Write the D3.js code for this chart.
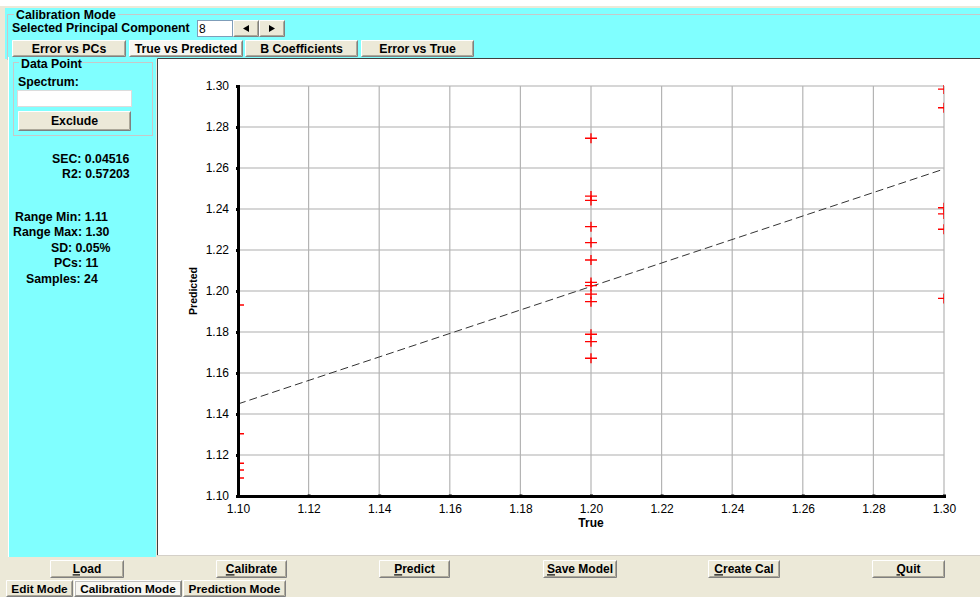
<!DOCTYPE html>
<html><head><meta charset="utf-8">
<script src="https://cdn.jsdelivr.net/npm/d3@7"></script>
<style>
body{margin:0;background:#ece9d8;}
svg{display:block;font-family:Arial,"Liberation Sans",sans-serif;}
</style>
</head><body><svg id="c" width="980" height="597"></svg>
<script>
// ---- data ----
const trueValues = [
  1.10,1.10,1.10,1.10,1.10,
  1.20,1.20,1.20,1.20,1.20,1.20,1.20,1.20,1.20,1.20,1.20,1.20,1.20,
  1.30,1.30,1.30,1.30,1.30,1.30
];
const predictedValues = [
  1.1932,1.1304,1.1160,1.1127,1.1088,
  1.2745,1.2463,1.2442,1.2314,1.2236,1.2151,1.2042,1.2026,1.1985,1.1948,1.1789,1.1753,1.1672,
  1.2985,1.2894,1.2406,1.2376,1.2301,1.1964
];
const fitX = [1.10, 1.30];
const fitY = [1.1449, 1.2595];
const xTickValues = [1.10,1.12,1.14,1.16,1.18,1.20,1.22,1.24,1.26,1.28,1.30];
const yTickValues = [1.10,1.12,1.14,1.16,1.18,1.20,1.22,1.24,1.26,1.28,1.30];
const xTitle = "True";
const yTitle = "Predicted";
const statLabels = ["SEC:","R2:","Range Min:","Range Max:","SD:","PCs:","Samples:"];
const statValues = ["0.04516","0.57203","1.11","1.30","0.05%","11","24"];
const viewTabs = ["Error vs PCs","True vs Predicted","B Coefficients","Error vs True"];
const actionButtons = ["Load","Calibrate","Predict","Save Model","Create Cal","Quit"];
const modeTabs = ["Edit Mode","Calibration Mode","Prediction Mode"];

// ---- drawing ----
const svg = d3.select("#c");
const CYAN = "#80ffff", BEIGE = "#ece9d8";
const UI = 12.3;

function button(g, x, y, w, h, label, opts={}) {
  const b = g.append("g");
  b.append("rect").attr("x",x).attr("y",y).attr("width",w).attr("height",h).attr("fill",opts.fill||BEIGE);
  b.append("path").attr("d",`M${x+0.5},${y+h-0.5}V${y+0.5}H${x+w-0.5}`).attr("stroke","#fff").attr("fill","none");
  b.append("path").attr("d",`M${x+0.5},${y+h-0.5}H${x+w-0.5}V${y+0.5}`).attr("stroke","#808080").attr("fill","none");
  b.append("path").attr("d",`M${x+w-1.5},${y+1.5}V${y+h-1.5}H${x+1.5}`).attr("stroke","#aca899").attr("fill","none");
  const t = b.append("text").attr("x",x+w/2).attr("y",y+h/2+4.3).attr("text-anchor","middle")
    .attr("font-size",opts.size||UI).attr("font-weight","bold").attr("fill","#000");
  if (opts.underline) {
    t.append("tspan").attr("text-decoration","underline").text(label[0]);
    t.append("tspan").text(label.slice(1));
  } else t.text(label);
  return b;
}

// top white strip & cyan header
svg.append("rect").attr("x",0).attr("y",0).attr("width",980).attr("height",6).attr("fill","#fff");
svg.append("rect").attr("x",0).attr("y",6).attr("width",980).attr("height",2).attr("fill",BEIGE);
svg.append("rect").attr("x",5).attr("y",8).attr("width",975).attr("height",51).attr("fill",CYAN);
svg.append("path").attr("d","M7.5,60V14.5H980").attr("stroke","#c8c8c8").attr("fill","none");
svg.append("rect").attr("x",14).attr("y",8).attr("width",104).attr("height",12).attr("fill",CYAN);
svg.append("text").attr("x",16).attr("y",18.5).attr("font-size",UI).attr("font-weight","bold").text("Calibration Mode");
svg.append("text").attr("x",12).attr("y",32).attr("font-size",UI).attr("font-weight","bold").text("Selected Principal Component");
svg.append("rect").attr("x",197.5).attr("y",20.5).attr("width",35).attr("height",16).attr("fill","#fff").attr("stroke","#7f9db9");
svg.append("text").attr("x",199).attr("y",32.5).attr("font-size",12).text("8");
button(svg,233,20,26,17,"");
button(svg,259,20,26,17,"");
svg.append("path").attr("d","M243,28.5L249,25V32Z").attr("fill","#000");
svg.append("path").attr("d","M269,25V32L275,28.5Z").attr("fill","#000");

// view tabs
const tabX = [12,129,245,361], tabW=[114,114,113,113];
viewTabs.forEach((t,i)=>{
  button(svg,tabX[i],40,tabW[i],17,t,{fill: i===1?"#f7f6f1":BEIGE});
});

// left cyan panel
svg.append("rect").attr("x",8).attr("y",57).attr("width",148).attr("height",500).attr("fill",CYAN);
svg.append("path").attr("d","M8.5,557V57").attr("stroke","#fff");
svg.append("rect").attr("x",13.5).attr("y",62.5).attr("width",139).attr("height",73).attr("fill","none").attr("stroke","#c8c8c8");
svg.append("rect").attr("x",19).attr("y",58).attr("width",62).attr("height",10).attr("fill",CYAN);
svg.append("text").attr("x",21).attr("y",67.5).attr("font-size",UI).attr("font-weight","bold").text("Data Point");
svg.append("text").attr("x",18).attr("y",86).attr("font-size",UI).attr("font-weight","bold").text("Spectrum:");
svg.append("rect").attr("x",17.5).attr("y",90.5).attr("width",114).attr("height",16).attr("fill","#fff").attr("stroke","#dcdcdc");
button(svg,18,111,113,20,"Exclude");

const statX = [52,62,15,13,51,54,26];
const statY = [162.5,178,220.5,236,251.5,267,282.5];
const statG = svg.append("g").attr("font-size",UI).attr("font-weight","bold");
statLabels.forEach((l,i)=>{
  statG.append("text").attr("x",statX[i]).attr("y",statY[i]).text(l+" "+statValues[i]);
});

// plot panel
svg.append("rect").attr("x",157).attr("y",58).attr("width",823).attr("height",497).attr("fill","#fff");
svg.append("path").attr("d","M157.5,555V58.5H980").attr("stroke","#404040").attr("fill","none");
svg.append("path").attr("d","M157,555.5H980").attr("stroke","#d4d0c8").attr("fill","none");

const x = d3.scaleLinear().domain([1.10,1.30]).range([238,944]);
const y = d3.scaleLinear().domain([1.10,1.30]).range([496,86]);

const grid = svg.append("g");
grid.selectAll(".hg").data(yTickValues.slice(1)).join("line")
  .attr("x1",x(1.10)).attr("x2",x(1.30)).attr("y1",d=>y(d)).attr("y2",d=>y(d))
  .attr("stroke","#c8c8c8").attr("stroke-width",1.5);
grid.selectAll(".vg").data(xTickValues.slice(1)).join("line")
  .attr("x1",d=>x(d)).attr("x2",d=>x(d)).attr("y1",y(1.10)).attr("y2",y(1.30))
  .attr("stroke","#b4b4b4").attr("stroke-width",1.2);

svg.append("clipPath").attr("id","pc").append("rect")
  .attr("x",x(1.10)).attr("y",y(1.30)-1).attr("width",x(1.30)-x(1.10)).attr("height",y(1.10)-y(1.30)+1);

const plot = svg.append("g").attr("clip-path","url(#pc)");
plot.append("line").attr("x1",x(fitX[0])).attr("y1",y(fitY[0])).attr("x2",x(fitX[1])).attr("y2",y(fitY[1]))
  .attr("stroke","#333").attr("stroke-width",1).attr("stroke-dasharray","8,4");
const pts = trueValues.map((t,i)=>({t, p:predictedValues[i]}));
plot.selectAll(".m").data(pts).join("path")
  .attr("d",d=>`M${x(d.t)-6},${y(d.p)}H${x(d.t)+6}M${x(d.t)},${y(d.p)-5}V${y(d.p)+5}`)
  .attr("stroke","#ff0000").attr("stroke-width",1.4).attr("fill","none");

const yAxis = d3.axisLeft(y).tickValues(yTickValues).tickFormat(d3.format(".2f")).tickSize(2).tickPadding(7);
const xAxis = d3.axisBottom(x).tickValues(xTickValues).tickFormat(d3.format(".2f")).tickSize(2).tickPadding(6);
const ya = svg.append("g").attr("transform",`translate(${x(1.10)},0)`).call(yAxis);
const xa = svg.append("g").attr("transform",`translate(0,${y(1.10)})`).call(xAxis);
[ya,xa].forEach(a=>{
  a.select(".domain").attr("stroke","#000").attr("stroke-width",3);
  a.selectAll(".tick line").attr("stroke","#000").attr("stroke-width",3);
  a.selectAll(".tick text").attr("font-size",12).attr("fill","#000").attr("font-family","Arial, 'Liberation Sans', sans-serif");
});
xa.selectAll(".tick line").attr("y1",-1.5);
ya.selectAll(".tick line").attr("x1",1.5);

svg.append("text").attr("x",x(1.20)).attr("y",527).attr("text-anchor","middle").attr("font-size",12).attr("font-weight","bold").text(xTitle);
svg.append("text").attr("transform",`translate(197,${y(1.20)}) rotate(-90)`).attr("text-anchor","middle").attr("font-size",10.5).attr("font-weight","bold").text(yTitle);

const btnX=[50,216,379,543,708,872], btnW=[74,71,71,74,72,73];
actionButtons.forEach((b,i)=>button(svg,btnX[i],560,btnW[i],18,b,{underline:true,size:12}));

const modeX=[6,74,183], modeW=[67,108,103];
modeTabs.forEach((m,i)=>{
  const sel = i===1;
  const g = button(svg,modeX[i],580,modeW[i],17,m,{fill: sel?"#f7f6f1":BEIGE, size:11.8});
  if (sel) g.append("rect").attr("x",modeX[i]+1.5).attr("y",581.5).attr("width",modeW[i]-3).attr("height",14)
    .attr("fill","none").attr("stroke","#888").attr("stroke-dasharray","1,1");
});
</script>
</body></html>
